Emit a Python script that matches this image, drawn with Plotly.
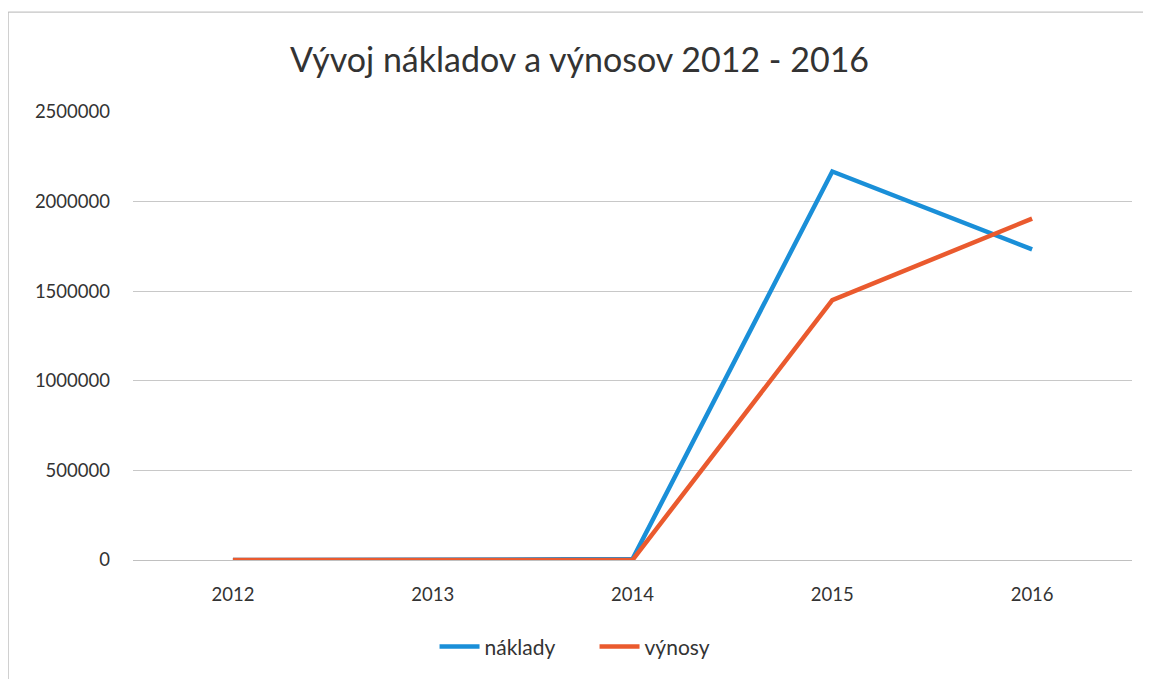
import plotly.graph_objects as go

years = ["2012", "2013", "2014", "2015", "2016"]
naklady = [0, 5000, 5000, 2168000, 1733000]
vynosy = [0, 0, 0, 1450000, 1905000]
y_ticks = [0, 500000, 1000000, 1500000, 2000000, 2500000]

font_family = "Lato, 'Open Sans', sans-serif"

fig = go.Figure()
fig.add_trace(go.Scatter(x=years, y=naklady, mode="lines", name="náklady",
                         line=dict(color="#1a8fd8", width=4.5)))
fig.add_trace(go.Scatter(x=years, y=vynosy, mode="lines", name="výnosy",
                         line=dict(color="#ea5a2e", width=4.5)))

fig.update_layout(
    width=1143, height=671,
    paper_bgcolor="white", plot_bgcolor="white",
    margin=dict(l=125, r=19, t=104, b=119),
    font=dict(family=font_family, color="#333333", size=18),
    title=dict(text="Vývoj nákladov a výnosov 2012 - 2016", x=0.5, xanchor="center",
               y=0.922, yanchor="middle",
               font=dict(size=34, color="#333333", family=font_family)),
    xaxis=dict(type="category", range=[-0.5, 4.5], showgrid=False,
               showline=True, linecolor="#c0c0c0", linewidth=1, ticks="",
               tickfont=dict(size=18.5, color="#333333"), ticklabelstandoff=18),
    yaxis=dict(range=[0, 2500000], tickvals=y_ticks, ticktext=[str(v) for v in y_ticks],
               showgrid=True, gridcolor="#c8c8c8", gridwidth=1, zeroline=False,
               showline=False, ticks="", tickfont=dict(size=18.5, color="#333333"),
               ticklabelstandoff=22),
    legend=dict(orientation="h", x=0.462, xanchor="center", y=-0.194, yanchor="middle",
                font=dict(size=21, color="#333333"), itemwidth=40, entrywidth=105),
    showlegend=True,
)

fig.add_shape(type="rect", xref="paper", yref="paper",
              x0=-0.125, x1=1.03, y0=-0.4, y1=1.223,
              line=dict(color="#b5b5b5", width=1), fillcolor="rgba(0,0,0,0)", layer="below")

fig.write_html("out.html")
